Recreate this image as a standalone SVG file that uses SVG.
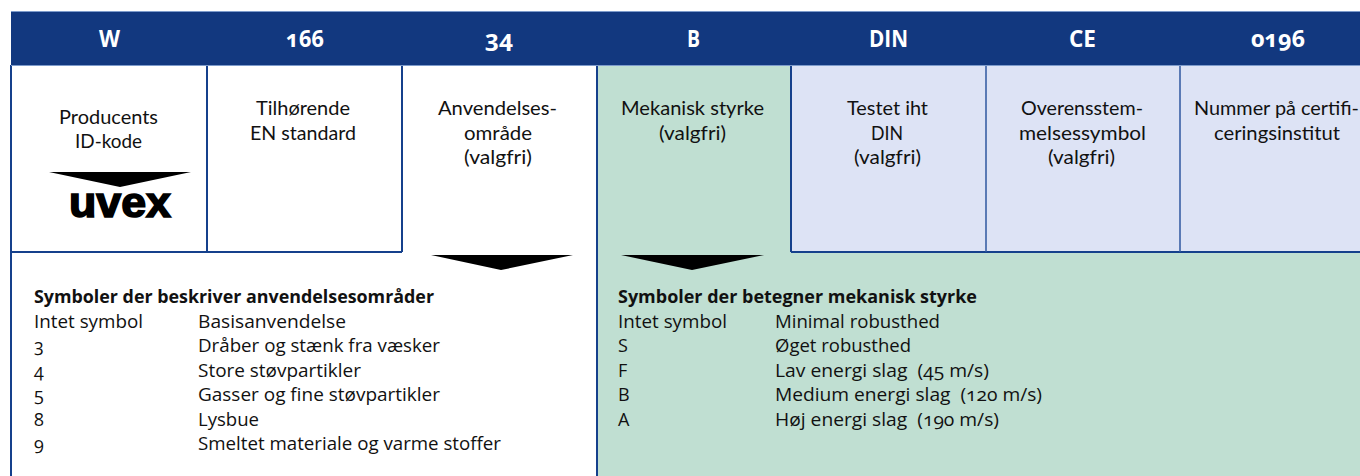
<svg xmlns="http://www.w3.org/2000/svg" width="1360" height="476" viewBox="0 0 1360 476">
<style>
text{font-family:"Open Sans","Noto Sans",sans-serif;fill:#111;font-size:18px;font-variant-numeric:oldstyle-nums;white-space:pre}
.h{font-size:24px;font-weight:700;fill:#fff}
.t{font-family:Lato,"Open Sans",sans-serif;font-size:20px}
.b{font-weight:700}
.ln{fill:none;stroke:#15408c;stroke-width:2}
.thin{fill:none;stroke:#2f58a0;stroke-width:1.5}
.edge{fill:none;stroke:#7d9bcb;stroke-width:1}
.ar{fill:#000}
</style>
<rect width="1360" height="476" fill="#fff"/>
<g id="panel-left"><rect x="11" y="252" width="586" height="224" fill="#fff"/></g>
<g id="panel-right"><rect x="597" y="65" width="763" height="411" fill="#c0dfd2"/></g>
<g id="header"><rect x="11" y="11" width="1349" height="54" fill="#12387f"/></g>
<g id="cell-din"><rect x="791" y="65" width="195" height="187" fill="#dde3f5"/></g>
<g id="cell-ce"><rect x="986" y="65" width="194" height="187" fill="#dde3f5"/></g>
<g id="cell-nr"><rect x="1180" y="65" width="180" height="187" fill="#dde3f5"/></g>
<g id="connectors">
<path class="ln" d="M11 65V476M207 65V252M402 65V252M11 252H402M597 65V476M791 65V252M791 252H1360"/>
<path class="thin" d="M986 65V252M1180 65V252"/>
<path class="edge" d="M11 11.500H1360M11 65.500H1360"/>
</g>
<g id="head-labels">
<text class="h" x="99" y="47" textLength="21" lengthAdjust="spacingAndGlyphs">W</text>
<text class="h" x="286" y="47" textLength="38" lengthAdjust="spacingAndGlyphs">166</text>
<text class="h" x="485" y="47" textLength="28" lengthAdjust="spacingAndGlyphs">34</text>
<text class="h" x="687" y="47" textLength="13" lengthAdjust="spacingAndGlyphs">B</text>
<text class="h" x="869" y="47" textLength="39" lengthAdjust="spacingAndGlyphs">DIN</text>
<text class="h" x="1069" y="47" textLength="27" lengthAdjust="spacingAndGlyphs">CE</text>
<text class="h" x="1251" y="47" textLength="54" lengthAdjust="spacingAndGlyphs">0196</text>
</g>
<g id="node-w">
<text class="t" x="59" y="124" textLength="99" lengthAdjust="spacingAndGlyphs">Producents</text>
<text class="t" x="75" y="148" textLength="67" lengthAdjust="spacingAndGlyphs">ID-kode</text>
<polygon class="ar" points="49,172 191,172 120,187"/>
<text x="69" y="217" style="font-family:'Liberation Sans',sans-serif;font-size:42px;font-weight:700;fill:#000;stroke:#000;stroke-width:1.6" textLength="102" lengthAdjust="spacingAndGlyphs">uvex</text>
</g>
<g id="node-166">
<text class="t" x="256" y="115" textLength="94" lengthAdjust="spacingAndGlyphs">Tilhørende</text>
<text class="t" x="250" y="140" textLength="106" lengthAdjust="spacingAndGlyphs">EN standard</text>
</g>
<g id="node-34">
<text class="t" x="438" y="115" textLength="119" lengthAdjust="spacingAndGlyphs">Anvendelses-</text>
<text class="t" x="464" y="140" textLength="68" lengthAdjust="spacingAndGlyphs">område</text>
<text class="t" x="464" y="164" textLength="68" lengthAdjust="spacingAndGlyphs">(valgfri)</text>
<polygon class="ar" points="431,255 573,255 501,270"/>
</g>
<g id="node-b">
<text class="t" x="621" y="115" textLength="143" lengthAdjust="spacingAndGlyphs">Mekanisk styrke</text>
<text class="t" x="659" y="140" textLength="67" lengthAdjust="spacingAndGlyphs">(valgfri)</text>
<polygon class="ar" points="621,255 764,255 692,270"/>
</g>
<g id="node-din">
<text class="t" x="847" y="115" textLength="81" lengthAdjust="spacingAndGlyphs">Testet iht</text>
<text class="t" x="871" y="140" textLength="32" lengthAdjust="spacingAndGlyphs">DIN</text>
<text class="t" x="854" y="164" textLength="67" lengthAdjust="spacingAndGlyphs">(valgfri)</text>
</g>
<g id="node-ce">
<text class="t" x="1021" y="115" textLength="122" lengthAdjust="spacingAndGlyphs">Overensstem-</text>
<text class="t" x="1019" y="140" textLength="127" lengthAdjust="spacingAndGlyphs">melsessymbol</text>
<text class="t" x="1048" y="164" textLength="67" lengthAdjust="spacingAndGlyphs">(valgfri)</text>
</g>
<g id="node-nr">
<text class="t" x="1194" y="115" textLength="165" lengthAdjust="spacingAndGlyphs">Nummer på certifi-</text>
<text class="t" x="1214" y="140" textLength="126" lengthAdjust="spacingAndGlyphs">ceringsinstitut</text>
</g>
<g id="list-left">
<text class="b" x="34" y="303" textLength="400" lengthAdjust="spacingAndGlyphs">Symboler der beskriver anvendelsesområder</text>
<text x="34" y="328" textLength="109" lengthAdjust="spacingAndGlyphs">Intet symbol</text><text x="198" y="328" textLength="148" lengthAdjust="spacingAndGlyphs">Basisanvendelse</text>
<text x="34" y="352">3</text><text x="198" y="352" textLength="242" lengthAdjust="spacingAndGlyphs">Dråber og stænk fra væsker</text>
<text x="34" y="377">4</text><text x="198" y="377" textLength="163" lengthAdjust="spacingAndGlyphs">Store støvpartikler</text>
<text x="34" y="401">5</text><text x="198" y="401" textLength="242" lengthAdjust="spacingAndGlyphs">Gasser og fine støvpartikler</text>
<text x="34" y="426">8</text><text x="198" y="426" textLength="61" lengthAdjust="spacingAndGlyphs">Lysbue</text>
<text x="34" y="450">9</text><text x="198" y="450" textLength="303" lengthAdjust="spacingAndGlyphs">Smeltet materiale og varme stoffer</text>
</g>
<g id="list-right">
<text class="b" x="618" y="303" textLength="359" lengthAdjust="spacingAndGlyphs">Symboler der betegner mekanisk styrke</text>
<text x="618" y="328" textLength="109" lengthAdjust="spacingAndGlyphs">Intet symbol</text><text x="775" y="328" textLength="165" lengthAdjust="spacingAndGlyphs">Minimal robusthed</text>
<text x="618" y="352">S</text><text x="775" y="352" textLength="136" lengthAdjust="spacingAndGlyphs">Øget robusthed</text>
<text x="618" y="377">F</text><text x="775" y="377" textLength="214" lengthAdjust="spacingAndGlyphs">Lav energi slag  (45 m/s)</text>
<text x="618" y="401">B</text><text x="775" y="401" textLength="267" lengthAdjust="spacingAndGlyphs">Medium energi slag  (120 m/s)</text>
<text x="618" y="426">A</text><text x="775" y="426" textLength="224" lengthAdjust="spacingAndGlyphs">Høj energi slag  (190 m/s)</text>
</g>
</svg>
